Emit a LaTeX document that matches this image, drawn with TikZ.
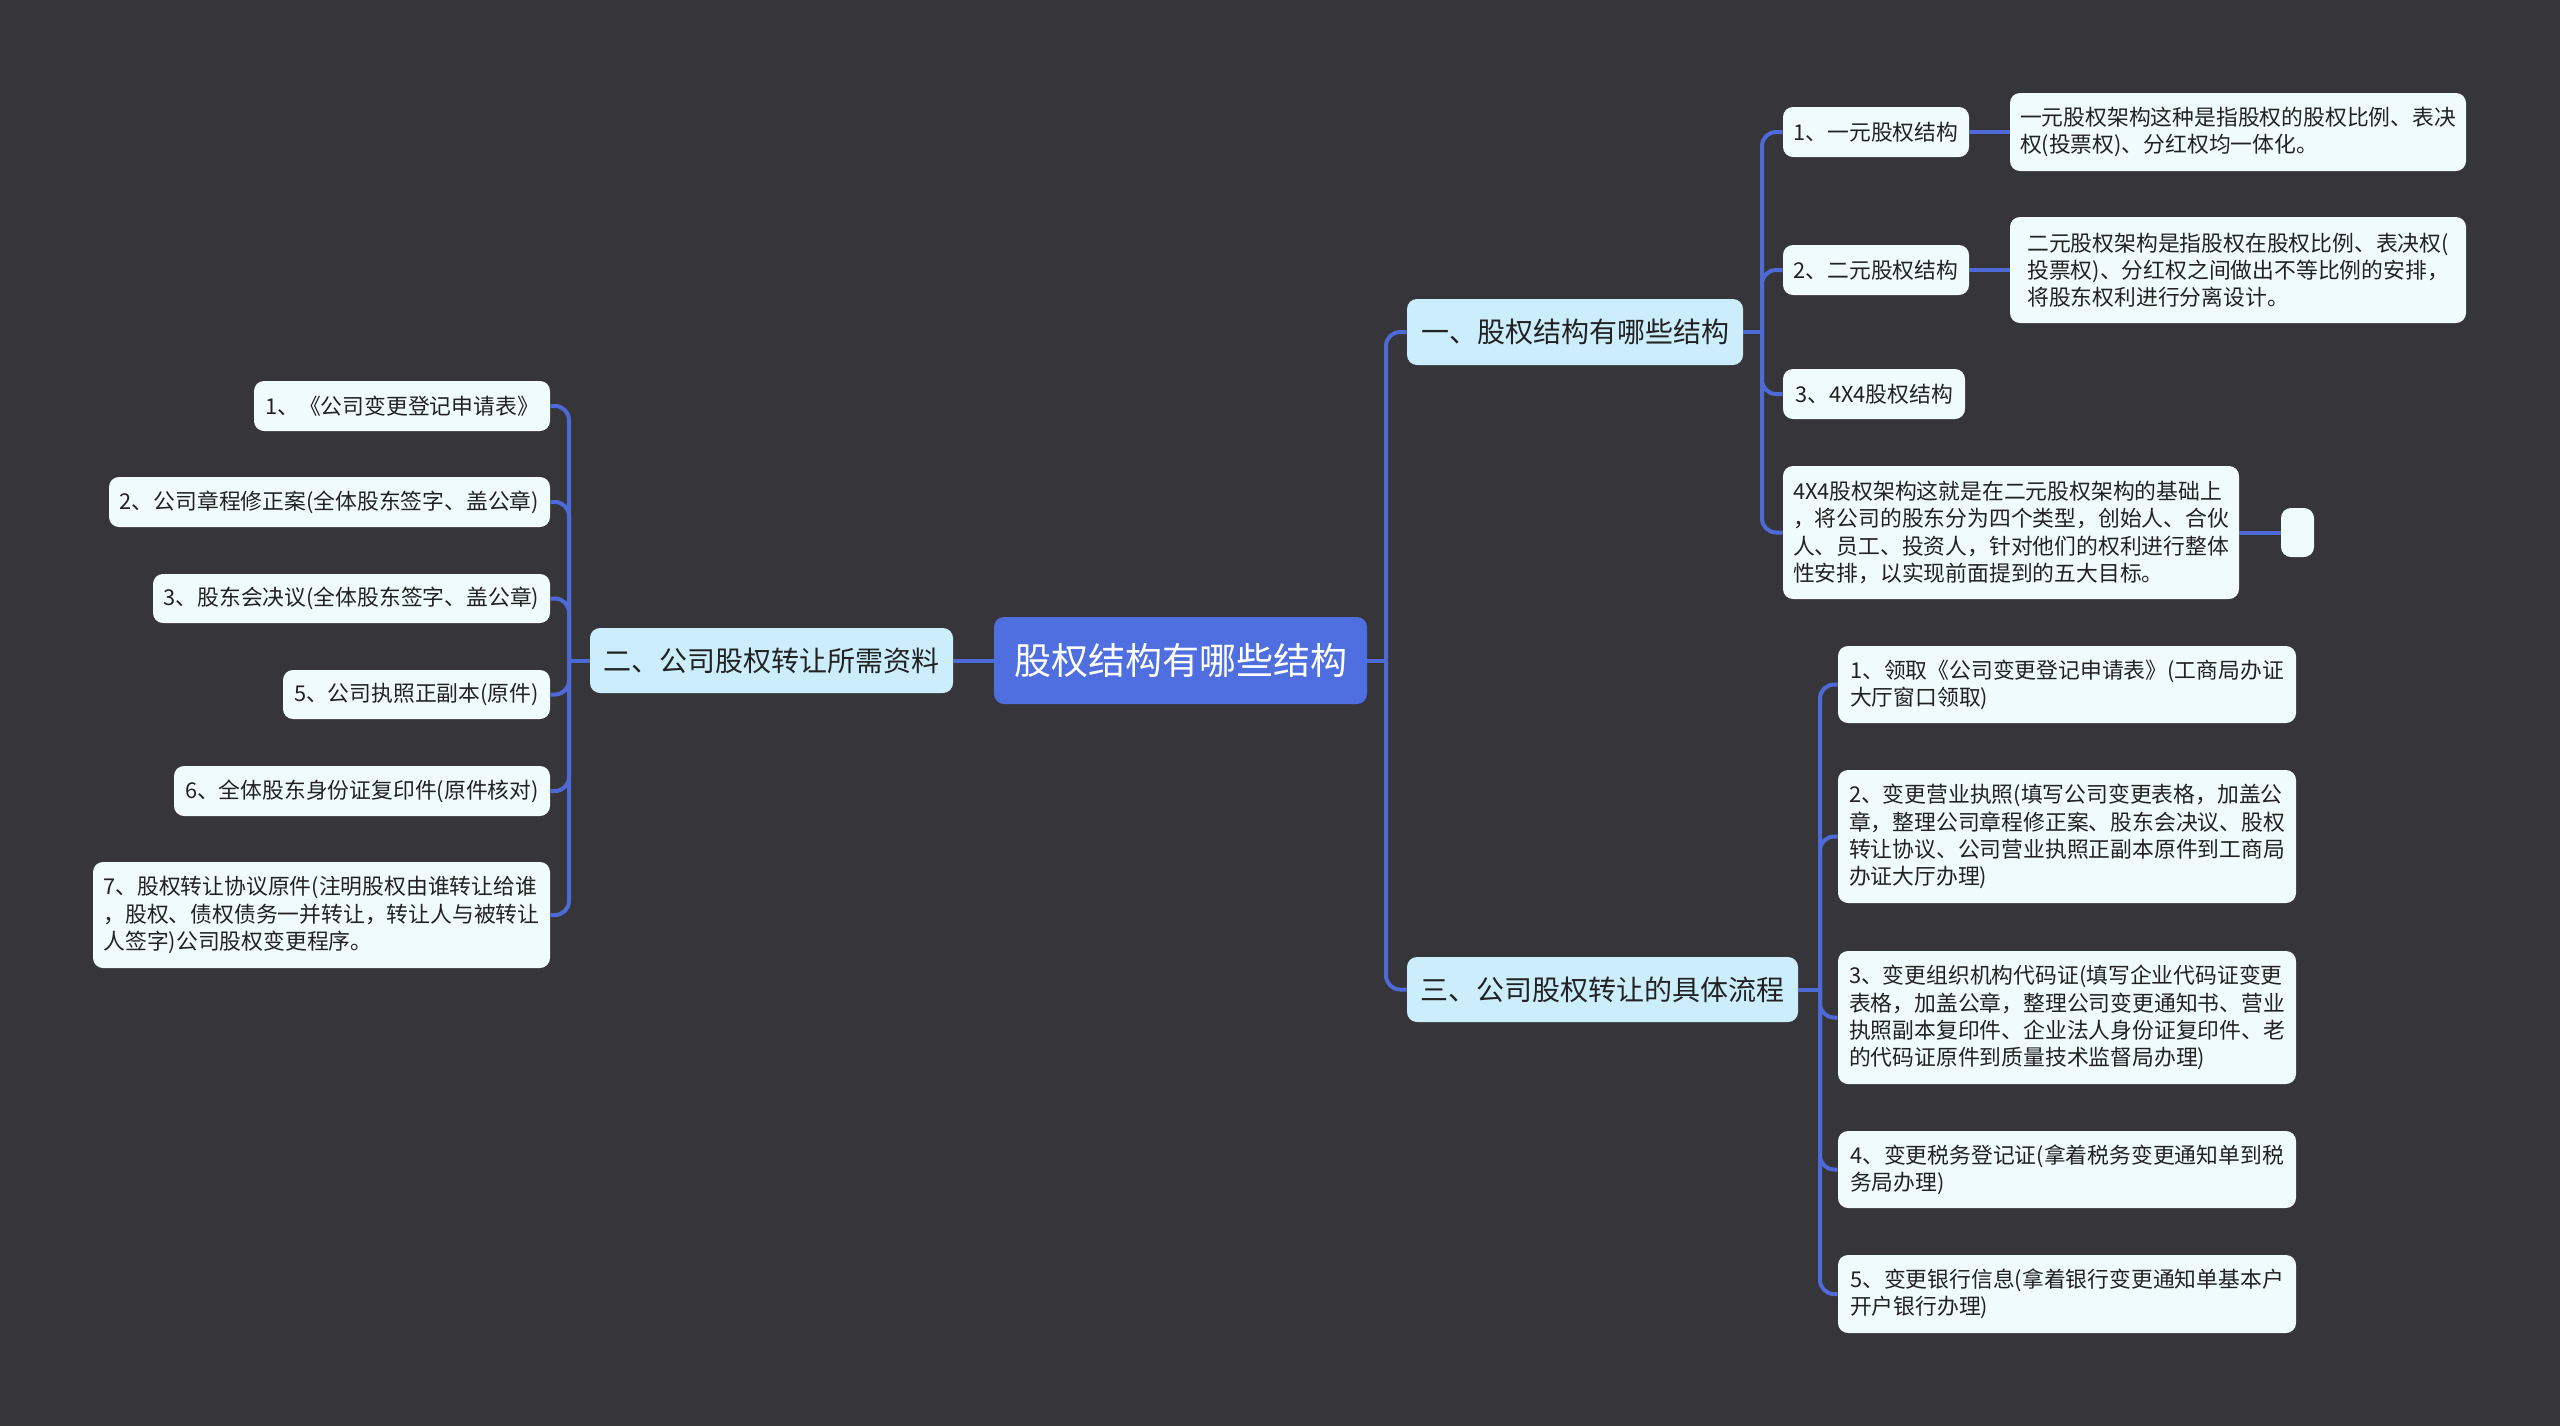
\documentclass[tikz,border=0pt]{standalone}
\usepackage{fontspec}
\setmainfont{Noto Sans CJK SC}
\definecolor{bg}{RGB}{54,53,57}
\definecolor{linkblue}{RGB}{78,106,214}
\definecolor{rootblue}{RGB}{79,111,224}
\definecolor{branchfill}{RGB}{204,238,252}
\definecolor{leaffill}{RGB}{240,251,253}
\definecolor{textdark}{RGB}{34,34,34}
\begin{document}
\begin{tikzpicture}[x=0.5pt,y=-0.5pt,
  conn/.style={draw=linkblue, line width=2pt, rounded corners=7pt},
  box/.style={rounded corners=5pt, inner sep=0pt, align=left, text=textdark},
  leaf/.style={box, fill=leaffill, font=\fontsize{10.9pt}{13.6pt}\selectfont},
  branch/.style={box, fill=branchfill, font=\fontsize{14pt}{17pt}\selectfont},
  rootbox/.style={box, fill=rootblue, text=white, font=\fontsize{18.5pt}{22pt}\selectfont},
  sz/.style 2 args={minimum width=#1, minimum height=#2}
]
\fill[bg] (0,0) rectangle (2560,1426);
\useasboundingbox (0,0) rectangle (2560,1426);

% root and branches
\node[rootbox, sz={186.5pt}{43.5pt}] (root) at (1180.5,660.5) {股权结构有哪些结构};
\node[branch, sz={168pt}{33pt}] (b1) at (1575,332) {一、股权结构有哪些结构};
\node[branch, sz={181.5pt}{32.5pt}] (b2) at (771.5,660.5) {二、公司股权转让所需资料};
\node[branch, sz={195.5pt}{32.5pt}] (b3) at (1602.5,989.5) {三、公司股权转让的具体流程};

% branch 1 children
\node[leaf, sz={93pt}{25pt}] (c11) at (1876,132) {1、一元股权结构};
\node[leaf, sz={228pt}{39pt}] (c11t) at (2238,132) {一元股权架构这种是指股权的股权比例、表决\\权(投票权)、分红权均一体化。};
\node[leaf, sz={93pt}{25pt}] (c12) at (1876,270) {2、二元股权结构};
\node[leaf, sz={228pt}{53pt}] (c12t) at (2238,270) {二元股权架构是指股权在股权比例、表决权(\\投票权)、分红权之间做出不等比例的安排，\\将股东权利进行分离设计。};
\node[leaf, sz={91pt}{25pt}] (c13) at (1874,394) {3、4X4股权结构};
\node[leaf, sz={228pt}{66.5pt}] (c14) at (2011,532.5) {4X4股权架构这就是在二元股权架构的基础上\\，将公司的股东分为四个类型，创始人、合伙\\人、员工、投资人，针对他们的权利进行整体\\性安排，以实现前面提到的五大目标。};
\node[leaf, sz={16.5pt}{24.5pt}] (c14e) at (2297.5,532.5) {};

% branch 3 children
\node[leaf, sz={229pt}{38.5pt}] (d1) at (2067,684.5) {1、领取《公司变更登记申请表》(工商局办证\\大厅窗口领取)};
\node[leaf, sz={229pt}{66.5pt}] (d2) at (2067,836.5) {2、变更营业执照(填写公司变更表格，加盖公\\章，整理公司章程修正案、股东会决议、股权\\转让协议、公司营业执照正副本原件到工商局\\办证大厅办理)};
\node[leaf, sz={229pt}{66.5pt}] (d3) at (2067,1017.5) {3、变更组织机构代码证(填写企业代码证变更\\表格，加盖公章，整理公司变更通知书、营业\\执照副本复印件、企业法人身份证复印件、老\\的代码证原件到质量技术监督局办理)};
\node[leaf, sz={229pt}{38.5pt}] (d4) at (2067,1169.5) {4、变更税务登记证(拿着税务变更通知单到税\\务局办理)};
\node[leaf, sz={229pt}{39pt}] (d5) at (2067,1294) {5、变更银行信息(拿着银行变更通知单基本户\\开户银行办理)};

% branch 2 children
\node[leaf, sz={148pt}{25pt}] (e1) at (402,406) {1、《公司变更登记申请表》};
\node[leaf, sz={220.5pt}{25pt}] (e2) at (329.5,502) {2、公司章程修正案(全体股东签字、盖公章)};
\node[leaf, sz={198.5pt}{24.5pt}] (e3) at (351.5,598.5) {3、股东会决议(全体股东签字、盖公章)};
\node[leaf, sz={133.5pt}{24.5pt}] (e5) at (416.5,694.5) {5、公司执照正副本(原件)};
\node[leaf, sz={188pt}{25pt}] (e6) at (362,791) {6、全体股东身份证复印件(原件核对)};
\node[leaf, sz={228.5pt}{53pt}] (e7) at (321.5,915) {7、股权转让协议原件(注明股权由谁转让给谁\\，股权、债权债务一并转让，转让人与被转让\\人签字)公司股权变更程序。};

% spine coordinates
\coordinate (rs) at (1386,660.5);
\coordinate (ls) at (569,660.5);
\coordinate (s1) at (1762,332);
\coordinate (s3) at (1820,989.5);

% connectors
\draw[conn] (root.west) -- (b2.east);
\draw[conn] (root.east) -- (rs);
\draw[conn] (rs) |- (b1.west);
\draw[conn] (rs) |- (b3.west);

\draw[conn] (b2.west) -- (ls);
\foreach \n in {e1,e2,e3,e5,e6,e7} \draw[conn] (ls) |- (\n.east);

\draw[conn] (b1.east) -- (s1);
\foreach \n in {c11,c12,c13,c14} \draw[conn] (s1) |- (\n.west);
\draw[conn] (c11.east) -- (c11t.west);
\draw[conn] (c12.east) -- (c12t.west);
\draw[conn] (c14.east) -- (c14e.west);

\draw[conn] (b3.east) -- (s3);
\foreach \n in {d1,d2,d3,d4,d5} \draw[conn] (s3) |- (\n.west);
\end{tikzpicture}
\end{document}
